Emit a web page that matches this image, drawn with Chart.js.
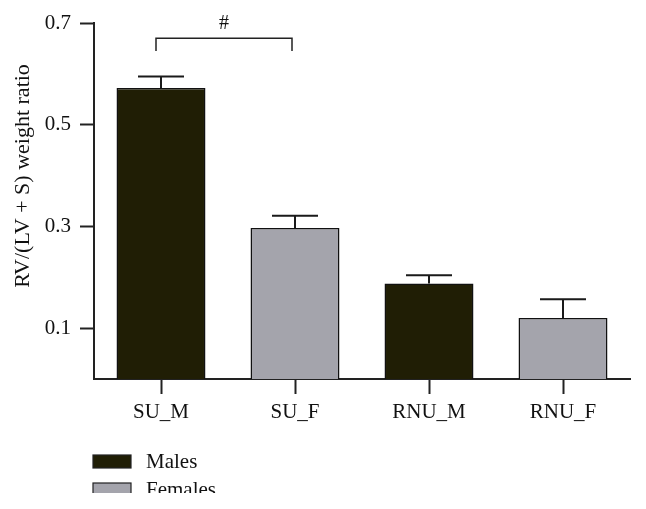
<!DOCTYPE html>
<html>
<head>
<meta charset="utf-8">
<script src="https://cdn.jsdelivr.net/npm/chart.js@4/dist/chart.umd.min.js"></script>
<style>
  html, body { margin: 0; padding: 0; background: #fff; }
  #wrap { width: 646px; height: 509px; position: relative; }
</style>
</head>
<body>
<div id="wrap"><canvas id="chart" width="646" height="509"></canvas></div>
<script>
// -------------------------
// DATA
// -------------------------
const categories = ["SU_M", "SU_F", "RNU_M", "RNU_F"];
const males   = [0.572, null, 0.188, null];
const females = [null, 0.297, null, 0.120];
const errTops = [0.595, 0.321, 0.204, 0.157];
const yTicks  = [0.1, 0.3, 0.5, 0.7];
const seriesNames = ["Males", "Females"];
const seriesColors = ["#201e05", "#a4a4ac"];
const yTitle = "RV/(LV + S) weight ratio";
const sigMark = "#";
const bracketTop = 0.670, bracketEnd = 0.645;

const FONT = "'Liberation Serif', 'DejaVu Serif', serif";

// -------------------------
// EXTRAS: error bars, bracket, title, legend
// -------------------------
const extras = {
    id: "extras",
    afterDatasetsDraw(chart) {
        const ctx = chart.ctx;
        const y = chart.scales.y;

        // bar centres, one per category
        const centers = categories.map((c, i) => {
            for (let d = 0; d < chart.data.datasets.length; d++) {
                if (chart.data.datasets[d].data[i] != null) {
                    const el = chart.getDatasetMeta(d).data[i];
                    return { x: el.x, top: el.y };
                }
            }
        });

        ctx.save();
        ctx.strokeStyle = "#1a1a1a";
        ctx.lineWidth = 2;
        centers.forEach((c, i) => {
            const ey = y.getPixelForValue(errTops[i]);
            ctx.beginPath();
            ctx.moveTo(c.x, c.top);
            ctx.lineTo(c.x, ey);
            ctx.moveTo(c.x - 23, ey);
            ctx.lineTo(c.x + 23, ey);
            ctx.stroke();
        });

        // significance bracket
        const bt = y.getPixelForValue(bracketTop);
        const be = y.getPixelForValue(bracketEnd);
        const x1 = centers[0].x - 5, x2 = centers[1].x - 3;
        ctx.lineWidth = 1.5;
        ctx.strokeStyle = "#222";
        ctx.beginPath();
        ctx.moveTo(x1, be);
        ctx.lineTo(x1, bt);
        ctx.lineTo(x2, bt);
        ctx.lineTo(x2, be);
        ctx.stroke();
        ctx.fillStyle = "#111";
        ctx.font = "20px " + FONT;
        ctx.textAlign = "center";
        ctx.textBaseline = "alphabetic";
        ctx.fillText(sigMark, (x1 + x2) / 2, 29);

        // y title
        ctx.save();
        ctx.translate(29, 176);
        ctx.rotate(-Math.PI / 2);
        ctx.font = "22px " + FONT;
        ctx.fillStyle = "#111";
        ctx.textAlign = "center";
        ctx.fillText(yTitle, 0, 0);
        ctx.restore();

        // legend (cut at the bottom like the source)
        ctx.save();
        ctx.beginPath();
        ctx.rect(0, 0, 646, 493);
        ctx.clip();
        seriesNames.forEach((name, i) => {
            const top = 455 + i * 28;
            ctx.fillStyle = seriesColors[i];
            ctx.fillRect(93, top, 38, 13);
            ctx.strokeStyle = "#222";
            ctx.lineWidth = 1.2;
            ctx.strokeRect(93, top, 38, 13);
            ctx.fillStyle = "#111";
            ctx.font = "21px " + FONT;
            ctx.textAlign = "left";
            ctx.fillText(name, 146, top + 13);
        });
        ctx.restore();

        ctx.restore();
    }
};

// -------------------------
// CHART
// -------------------------
new Chart(document.getElementById("chart"), {
    type: "bar",
    data: {
        labels: categories,
        datasets: [
            {
                label: seriesNames[0],
                data: males,
                backgroundColor: seriesColors[0],
                borderColor: "#111",
                borderWidth: 1.5,
                skipNull: true,
                categoryPercentage: 0.664,
                barPercentage: 1
            },
            {
                label: seriesNames[1],
                data: females,
                backgroundColor: seriesColors[1],
                borderColor: "#111",
                borderWidth: 1.5,
                skipNull: true,
                categoryPercentage: 0.664,
                barPercentage: 1
            }
        ]
    },
    options: {
        responsive: false,
        animation: false,
        layout: { padding: { top: 23, right: 16, left: 0, bottom: 0 } },
        plugins: {
            legend: { display: false },
            tooltip: { enabled: false }
        },
        scales: {
            x: {
                afterFit(scale) { scale.height = 130; },
                grid: {
                    offset: false,
                    drawOnChartArea: false,
                    drawTicks: true,
                    tickLength: 15,
                    tickWidth: 2,
                    tickColor: "#222"
                },
                border: { color: "#222", width: 2 },
                ticks: {
                    color: "#111",
                    padding: 6,
                    font: { family: FONT, size: 21 }
                }
            },
            y: {
                min: 0,
                max: 0.7,
                afterFit(scale) { scale.width = 94; },
                afterBuildTicks(scale) {
                    scale.ticks = yTicks.map(v => ({ value: v }));
                },
                grid: {
                    drawOnChartArea: false,
                    drawTicks: true,
                    tickLength: 14,
                    tickWidth: 2,
                    tickColor: "#222"
                },
                border: { color: "#222", width: 2 },
                ticks: {
                    color: "#111",
                    padding: 9,
                    font: { family: FONT, size: 21 },
                    callback: v => v.toFixed(1)
                }
            }
        }
    },
    plugins: [extras]
});
</script>
</body>
</html>
